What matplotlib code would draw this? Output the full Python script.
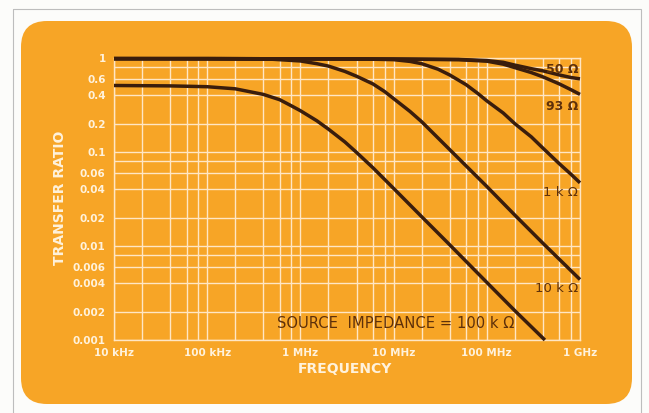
import matplotlib
matplotlib.use('Agg')
import matplotlib.pyplot as plt
from matplotlib.patches import FancyBboxPatch, Rectangle
from matplotlib.ticker import FixedLocator, FixedFormatter, NullFormatter

# ---------------- data ----------------
freq_50 = [1e4, 1e5, 1e6, 1e7, 5e7, 1e8, 1.5e8, 2e8, 3e8, 4e8, 6e8, 8e8, 1e9]
ratio_50 = [0.985, 0.985, 0.98, 0.975, 0.965, 0.94, 0.90, 0.84, 0.77, 0.73, 0.66, 0.62, 0.60]

freq_93 = [1e4, 1e5, 1e6, 1e7, 5e7, 1e8, 1.5e8, 2e8, 3e8, 4e8, 6e8, 8e8, 1e9]
ratio_93 = [0.985, 0.985, 0.98, 0.975, 0.96, 0.925, 0.86, 0.79, 0.70, 0.63, 0.53, 0.46, 0.41]

freq_1k = [1e4, 1e5, 1e6, 5e6, 1e7, 1.5e7, 2e7, 3e7, 4e7, 6e7, 8e7, 1e8,
           1.5e8, 2e8, 3e8, 4e8, 6e8, 8e8, 1e9]
ratio_1k = [0.985, 0.985, 0.98, 0.975, 0.96, 0.92, 0.87, 0.76, 0.66, 0.52, 0.42, 0.35,
            0.26, 0.20, 0.145, 0.11, 0.075, 0.058, 0.047]

freq_10k = [1e4, 1e5, 5e5, 1e6, 1.5e6, 2e6, 3e6, 4e6, 6e6, 8e6, 1e7, 1.5e7, 2e7,
            4e7, 1e8, 2e8, 4e8, 1e9]
ratio_10k = [0.985, 0.98, 0.97, 0.93, 0.87, 0.82, 0.72, 0.64, 0.53, 0.44, 0.37, 0.27, 0.21,
             0.106, 0.043, 0.0213, 0.0107, 0.0044]

freq_100k = [1e4, 4e4, 1e5, 2e5, 4e5, 6e5, 8e5, 1e6, 1.5e6, 2e6, 3e6, 4e6, 6e6,
             1e7, 2e7, 4e7, 1e8, 2e8, 4.2e8]
ratio_100k = [0.51, 0.505, 0.495, 0.47, 0.41, 0.36, 0.31, 0.275, 0.215, 0.175, 0.128, 0.099, 0.068,
              0.041, 0.0205, 0.0103, 0.0041, 0.00205, 0.001]

x_major = [1e4, 1e5, 1e6, 1e7, 1e8, 1e9]
x_labels = ['10 kHz', '100 kHz', '1 MHz', '10 MHz', '100 MHz', '1 GHz']
x_minor = [m * d for d in [1e4, 1e5, 1e6, 1e7, 1e8] for m in (2, 4, 6, 8)]

y_major = [1, 0.6, 0.4, 0.2, 0.1, 0.06, 0.04, 0.02, 0.01, 0.006, 0.004, 0.002, 0.001]
y_labels = ['1', '0.6', '0.4', '0.2', '0.1', '0.06', '0.04', '0.02', '0.01',
            '0.006', '0.004', '0.002', '0.001']
y_minor = [0.8, 0.08, 0.008]

curve_labels = ['50 Ω', '93 Ω', '1 k Ω', '10 k Ω', 'SOURCE  IMPEDANCE = 100 k Ω']

# ---------------- style ----------------
ORANGE = '#F7A526'
GRID = '#FFE6C4'
CURVE = '#3A1D0C'
LABEL = '#FFF2DC'
TEXT_DARK = '#5E300A'

fig = plt.figure(figsize=(6.49, 4.13), dpi=100)
fig.patch.set_facecolor('#FCFCFA')

bg = fig.add_axes([0, 0, 1, 1])
bg.set_xlim(0, 649)
bg.set_ylim(413, 0)
bg.axis('off')
bg.add_patch(Rectangle((12.5, 8.5), 628, 412, fill=False, edgecolor='#BDBDBD', lw=0.8))
bg.add_patch(FancyBboxPatch((21, 21), 611, 383, boxstyle='round,pad=0,rounding_size=26',
                            facecolor=ORANGE, edgecolor='none'))

ax = fig.add_axes([114 / 649, 73 / 413, 466 / 649, 282 / 413])
ax.set_zorder(2)
ax.set_facecolor('none')
ax.set_xscale('log')
ax.set_yscale('log')
ax.set_xlim(1e4, 1e9)
ax.set_ylim(1e-3, 1)

ax.xaxis.set_major_locator(FixedLocator(x_major))
ax.xaxis.set_major_formatter(FixedFormatter(x_labels))
ax.xaxis.set_minor_locator(FixedLocator(x_minor))
ax.xaxis.set_minor_formatter(NullFormatter())
ax.yaxis.set_major_locator(FixedLocator(y_major))
ax.yaxis.set_major_formatter(FixedFormatter(y_labels))
ax.yaxis.set_minor_locator(FixedLocator(y_minor))
ax.yaxis.set_minor_formatter(NullFormatter())

ax.grid(which='both', color=GRID, lw=1.0)
ax.set_axisbelow(True)
for s in ax.spines.values():
    s.set_color(GRID)
    s.set_linewidth(1.0)
ax.tick_params(which='both', length=0)
ax.tick_params(axis='x', pad=6, labelsize=7.5, labelcolor=LABEL)
ax.tick_params(axis='y', pad=6, labelsize=7.5, labelcolor=LABEL)
for t in ax.get_xticklabels() + ax.get_yticklabels():
    t.set_fontweight('bold')

for f, r in [(freq_100k, ratio_100k), (freq_10k, ratio_10k), (freq_1k, ratio_1k),
             (freq_93, ratio_93), (freq_50, ratio_50)]:
    ax.plot(f, r, color=CURVE, lw=2.5, solid_capstyle='butt', clip_on=False, zorder=3)

# axis titles
bg.text(345, 369, 'FREQUENCY', color=LABEL, fontsize=10, fontweight='bold',
        ha='center', va='center')
bg.text(60, 198, 'TRANSFER RATIO', color=LABEL, fontsize=10, fontweight='bold',
        ha='center', va='center', rotation=90)

# curve labels (drawn above the curves)
lab_pos = [(578, 69.5, 'right', 'bold', 9), (578, 107, 'right', 'bold', 9),
           (578, 193, 'right', 'normal', 9.5), (578, 289, 'right', 'normal', 9.5),
           (277, 323, 'left', 'normal', 10.6)]
for (x, y, ha, w, fs), s in zip(lab_pos, curve_labels):
    ax.text(x, y, s, transform=bg.transData, color=TEXT_DARK, fontsize=fs,
            fontweight=w, ha=ha, va='center', zorder=5, clip_on=False)

fig.savefig('out.png', dpi=100, facecolor=fig.get_facecolor())
